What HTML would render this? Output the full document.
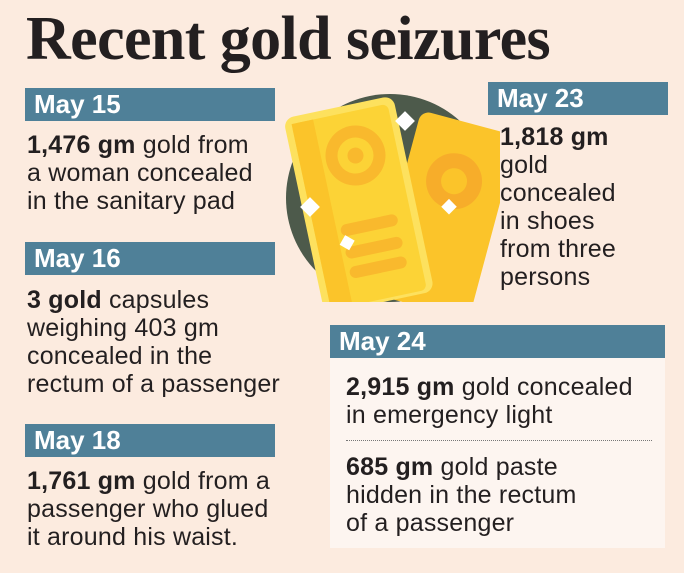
<!DOCTYPE html>
<html><head><meta charset="utf-8"><style>
body{margin:0;width:684px;height:573px;background:#fcebdf;position:relative;overflow:hidden;font-family:"Liberation Sans",sans-serif;color:#231f20}
.t{position:absolute;left:26px;top:4px;font-family:"Liberation Serif",serif;font-weight:bold;font-size:62px;letter-spacing:-0.6px;white-space:nowrap}
.h{position:absolute;background:#4f8098;color:#fff;font-weight:bold;font-size:26px;line-height:33px;padding-left:9px;box-sizing:border-box}
.b{position:absolute;font-size:25px;line-height:28px;white-space:nowrap;letter-spacing:0.2px}
.b b{font-weight:bold}
.box{position:absolute;left:330px;top:325px;width:335px;height:223px;background:#fdf5f0}
</style></head><body>
<div class="t">Recent gold seizures</div>
<div class="h" style="left:25px;top:88px;width:250px">May 15</div>
<div class="b" style="left:27px;top:131px"><b>1,476 gm</b> gold from<br>a woman concealed<br>in the sanitary pad</div>
<div class="h" style="left:25px;top:242px;width:250px">May 16</div>
<div class="b" style="left:27px;top:286px"><b>3 gold</b> capsules<br>weighing 403 gm<br>concealed in the<br>rectum of a passenger</div>
<div class="h" style="left:25px;top:424px;width:250px">May 18</div>
<div class="b" style="left:27px;top:467px"><b>1,761 gm</b> gold from a<br>passenger who glued<br>it around his waist.</div>
<svg style="position:absolute;left:280px;top:80px" width="220" height="222" viewBox="280 80 220 222">
<circle cx="390" cy="198" r="104" fill="#4d5a4b"/>
<g transform="rotate(15 445 215)"><rect x="395" y="120" width="100" height="190" rx="10" fill="#fbc42a"/><circle cx="445" cy="180" r="28" fill="#f7ad2a"/><circle cx="445" cy="180" r="13" fill="#fbc42a"/></g>
<g transform="translate(-10 6) rotate(-12 368 195)"><rect x="312" y="99" width="112" height="200" rx="10" fill="#fde15e"/><rect x="319" y="106" width="98" height="190" rx="6" fill="#fcd336"/><rect x="319" y="106" width="22" height="190" fill="#fbc42a"/><circle cx="375" cy="150" r="30" fill="#f9b92d"/><circle cx="375" cy="150" r="18" fill="#fcd336"/><circle cx="375" cy="150" r="8" fill="#f9b92d"/><rect x="345" y="215" width="58" height="12" rx="6" fill="#f9b92d"/><rect x="345" y="238" width="58" height="12" rx="6" fill="#f9b92d"/><rect x="345" y="258" width="58" height="12" rx="6" fill="#f9b92d"/></g>
<g fill="#fff"><rect x="398" y="114" width="14" height="14" transform="rotate(45 405 121)"/><rect x="303" y="200" width="14" height="14" transform="rotate(45 310 207)"/><rect x="342" y="237" width="11" height="11" transform="rotate(30 347 242)"/><rect x="444" y="201" width="11" height="11" transform="rotate(45 449 206)"/></g>
</svg>
<div class="h" style="left:488px;top:82px;width:180px">May 23</div>
<div class="b" style="left:500px;top:123px"><b>1,818 gm</b><br>gold<br>concealed<br>in shoes<br>from three<br>persons</div>
<div class="box"></div>
<div class="h" style="left:330px;top:325px;width:335px">May 24</div>
<div class="b" style="left:346px;top:373px"><b>2,915 gm</b> gold concealed<br>in emergency light</div>
<div style="position:absolute;left:346px;top:440px;width:306px;border-top:1px dotted #777"></div>
<div class="b" style="left:346px;top:453px"><b>685 gm</b> gold paste<br>hidden in the rectum<br>of a passenger</div>
</body></html>
